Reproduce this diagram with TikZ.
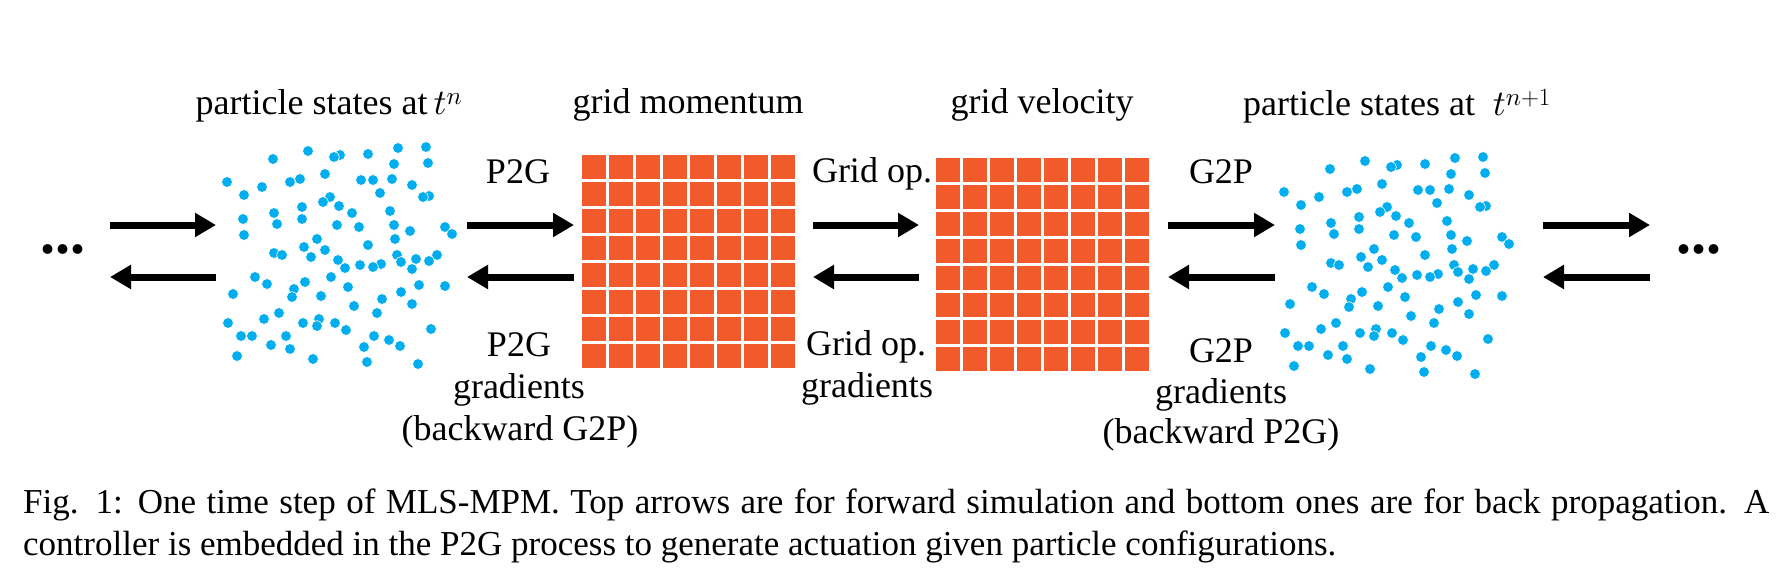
\documentclass[tikz,border=0pt]{standalone}
\usepackage{fontspec}
\setmainfont{Liberation Serif}
\usetikzlibrary{arrows.meta}
\DeclareFontShape{OML}{cmm}{m}{it}{<->cmmi10}{}
\definecolor{dotblue}{RGB}{0,174,239}
\definecolor{cellred}{RGB}{241,90,43}
\newcommand{\labelsize}{\fontsize{36}{42}\selectfont}
% particle positions (same cloud is reused at t^{n+1})
\newcommand{\cloudpts}{273/159, 308/151, 340/155, 334/157, 368/154, 398/148,
  394/164, 227/182, 262/187, 300/179, 290/182, 325/174, 361/180, 373/180,
  392/179, 244/195, 380/193, 330/197, 323/202, 339/206, 274/213, 302/207,
  352/213, 390/211, 243/219, 277/224, 302/219, 337/225, 359/227, 394/225,
  244/235, 317/239, 395/239, 304/247, 325/250, 368/245, 274/253, 282/255,
  311/257, 397/255, 401/262, 338/260, 345/268, 360/265, 381/264, 373/267,
  255/277, 267/284, 305/282, 331/277, 294/289, 292/297, 348/287, 233/294,
  321/296, 401/292, 382/299, 354/306, 279/313, 377/313, 264/319, 228/323,
  303/323, 319/319, 317/326, 335/323, 346/330, 241/336, 252/336, 286/336,
  374/336, 389/340, 271/345, 290/349, 364/347, 400/346, 237/356, 313/359,
  367/362, 426/147, 428/163, 412/185, 429/196, 423/197, 410/231, 445/227,
  452/234, 416/259, 437/255, 429/261, 412/269, 419/285, 445/286, 412/304,
  431/329, 418/364}

\begin{document}
\begin{tikzpicture}[x=1pt,y=-1pt,
  lbl/.style={font=\labelsize,anchor=base,inner sep=0pt},
  fwd/.style={line width=7pt,-{Triangle[length=21pt,width=23pt]}},
  particle/.style={fill=dotblue,draw=white,line width=0.6pt},
  cell/.style={fill=cellred},
  ellip/.style={font=\fontsize{60}{60}\selectfont\bfseries,anchor=base,inner sep=0pt}]
\useasboundingbox (0,0) rectangle (1792,570);

% particles
\foreach \px/\py in \cloudpts
  \filldraw[particle] (\px,\py) circle (5.4);
\begin{scope}[shift={(1057,10)}]
\foreach \px/\py in \cloudpts
  \filldraw[particle] (\px,\py) circle (5.4);
\end{scope}

% grids
\foreach \i in {0,...,7}
  \foreach \j in {0,...,7} {
    \fill[cell] (582+27*\i,155+27*\j) rectangle ++(24,24);
    \fill[cell] (936+27*\i,158+27*\j) rectangle ++(24,24);
  }

% titles
\node[lbl] (tn) at (329,114) {particle states at\,$t^n$};
\node[lbl] (gm) at (688,113) {grid momentum};
\node[lbl] (gv) at (1042,113) {grid velocity};
\node[lbl] (tn1) at (1397,115) {particle states at~~$t^{n+1}$};

% arrow labels
\node[lbl] (p2g) at (518,183) {P2G};
\node[lbl] (p2gb) at (519,356) {P2G};
\node[lbl] (p2gg) at (519,398) {gradients};
\node[lbl] (p2gbw) at (520,440) {(backward G2P)};
\node[lbl] (gop) at (872,182) {Grid op.};
\node[lbl] (gopb) at (866,355) {Grid op.};
\node[lbl] (gopg) at (867,397) {gradients};
\node[lbl] (g2p) at (1221,183) {G2P};
\node[lbl] (g2pb) at (1221,362) {G2P};
\node[lbl] (g2pg) at (1221,403) {gradients};
\node[lbl] (g2pbw) at (1221,443) {(backward P2G)};

\node[ellip] (ldots) at (63,253) {...};
\node[ellip] (rdots) at (1699,253) {...};

% top arrows forward, bottom arrows backward
\foreach \a/\b [count=\k] in {110/216, 467/574, 813/919, 1168/1275, 1543/1650} {
  \coordinate (fa\k) at (\a,225);
  \coordinate (fb\k) at (\b,225);
  \coordinate (ba\k) at (\a,277);
  \coordinate (bb\k) at (\b,277);
  \draw[fwd] (fa\k) -- (fb\k);
  \draw[fwd] (bb\k) -- (ba\k);
}

% caption
\node[anchor=north west,inner sep=0pt,text width=1746pt,align=justify,
  font=\fontsize{35}{42}\selectfont] (cap) at (23,489)
  {Fig. 1: One time step of MLS-MPM. Top arrows are for forward simulation and bottom ones are for back propagation. A\linebreak
  controller is embedded in the P2G process to generate actuation given particle configurations.};
\end{tikzpicture}
\end{document}
